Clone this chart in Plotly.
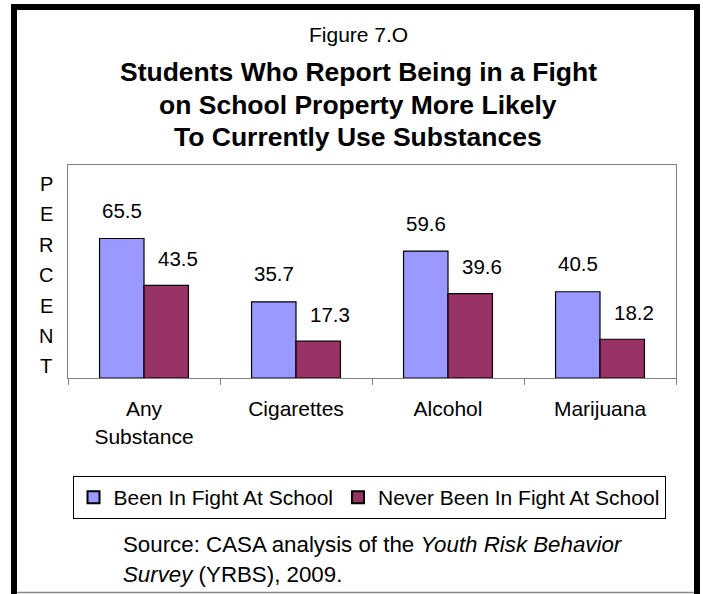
import plotly.graph_objects as go

categories = ["Any<br>Substance", "Cigarettes", "Alcohol", "Marijuana"]
been_in_fight = [65.5, 35.7, 59.6, 40.5]
never_in_fight = [43.5, 17.3, 39.6, 18.2]
series_names = ["Been In Fight At School", "Never Been In Fight At School"]
figure_label = "Figure 7.O"
title_lines = ["Students Who Report Being in a Fight",
               "on School Property More Likely",
               "To Currently Use Substances"]
axis_letters = list("PERCENT")
source_lines = ["Source: CASA analysis of the <i>Youth Risk Behavior</i>",
                "<i>Survey</i> (YRBS), 2009."]

W, H = 703, 594
L, R, T, B = 68, 676, 165, 378  # plot area in pixels
FONT = "Liberation Sans, Arial, sans-serif"


def px(x):
    return (x - L) / (R - L)


def py(y):
    return (B - y) / (B - T)


fig = go.Figure()
fig.add_trace(go.Bar(x=categories, y=been_in_fight, name=series_names[0],
                     marker=dict(color="#9999FF", line=dict(color="black", width=1.2))))
fig.add_trace(go.Bar(x=categories, y=never_in_fight, name=series_names[1],
                     marker=dict(color="#993366", line=dict(color="black", width=1.2))))

ann = []
# value labels
for cat, v in zip(categories, been_in_fight):
    ann.append(dict(x=cat, y=v, xref="x", yref="y", text=f"{v:.1f}", showarrow=False,
                    xshift=-22, yshift=28, yanchor="middle", font=dict(size=20.5)))
for cat, v in zip(categories, never_in_fight):
    ann.append(dict(x=cat, y=v, xref="x", yref="y", text=f"{v:.1f}", showarrow=False,
                    xshift=34, yshift=27, yanchor="middle", font=dict(size=20.5)))

# figure label and title
ann.append(dict(x=px(358), y=py(34), xref="paper", yref="paper", text=figure_label,
                showarrow=False, xanchor="center", yanchor="middle", font=dict(size=21)))
for i, line in enumerate(title_lines):
    ann.append(dict(x=px(358), y=py(72 + 32.5 * i), xref="paper", yref="paper",
                    text=f"<b>{line}</b>", showarrow=False, xanchor="center",
                    yanchor="middle", font=dict(size=26.5)))

# vertical "PERCENT"
for i, ch in enumerate(axis_letters):
    ann.append(dict(x=px(46), y=py(184 + 30.4 * i), xref="paper", yref="paper", text=ch,
                    showarrow=False, xanchor="center", yanchor="middle", font=dict(size=20)))

# source
for i, line in enumerate(source_lines):
    ann.append(dict(x=px(121), y=py(544 + 30 * i), xref="paper", yref="paper", text=line,
                    showarrow=False, xanchor="left", yanchor="middle", font=dict(size=22.3)))

shapes = [
    dict(type="rect", xref="paper", yref="paper", x0=px(14), x1=px(697), y0=py(640), y1=py(7),
         line=dict(color="black", width=6), layer="above"),
    dict(type="line", xref="paper", yref="paper", x0=px(17), x1=px(694), y0=py(592.5), y1=py(592.5),
         line=dict(color="#888888", width=1.5)),
]

fig.update_layout(
    width=W, height=H,
    margin=dict(l=L, r=W - R, t=T, b=H - B, pad=0),
    paper_bgcolor="white", plot_bgcolor="white",
    font=dict(family=FONT, color="black", size=21),
    barmode="group", bargap=0.415, bargroupgap=0,
    showlegend=True,
    legend=dict(orientation="h", x=px(369), xanchor="center", y=py(476), yanchor="top",
                bordercolor="black", borderwidth=1, font=dict(size=21),
                itemsizing="constant", traceorder="normal", tracegroupgap=0),
    annotations=ann, shapes=shapes,
)
fig.update_xaxes(showline=True, linecolor="#808080", linewidth=1.2, mirror=True,
                 ticks="outside", tickson="boundaries", ticklen=6, tickcolor="#808080",
                 tickfont=dict(size=21), ticklabelstandoff=12, showgrid=False, fixedrange=True)
fig.update_yaxes(range=[0, 100], showline=True, linecolor="#808080", linewidth=1.2, mirror=True,
                 showticklabels=False, ticks="", showgrid=False, zeroline=False, fixedrange=True)

fig.write_html("out.html", config={"displayModeBar": False},
               post_script="document.body.style.margin='0';document.body.style.padding='0';")
